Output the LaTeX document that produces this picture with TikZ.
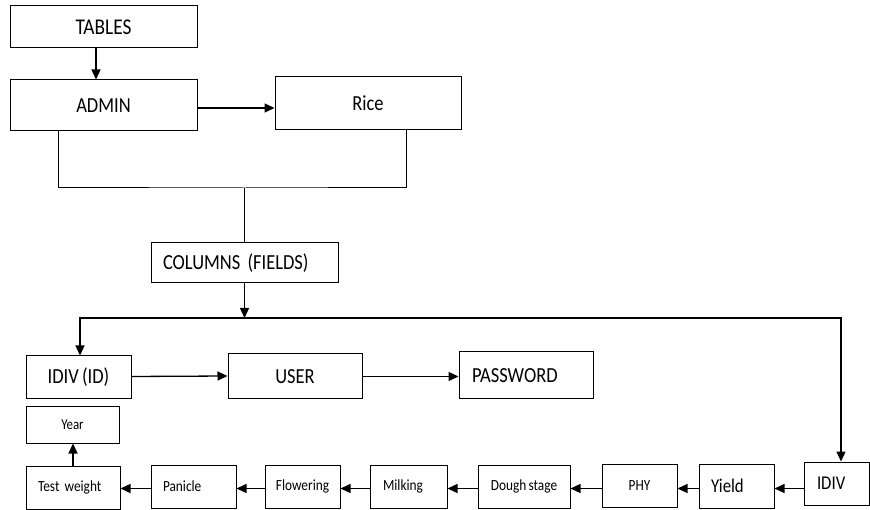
\documentclass[tikz,border=0pt]{standalone}
\usepackage{fontspec}
\setmainfont{Carlito}[FakeStretch=0.86,WordSpace=0.75]
\usetikzlibrary{arrows.meta}
\begin{document}
\begin{tikzpicture}[x=1pt,y=-1pt,
  box/.style={draw, line width=1pt, inner sep=0pt, align=center},
  lbox/.style={box, align=left, inner xsep=12pt, text width=#1},
  big/.style={font=\fontsize{21.5}{25}\selectfont},
  mid/.style={font=\fontsize{19.5}{23}\selectfont},
  small/.style={font=\fontsize{15.5}{18}\selectfont},
  conn/.style={line width=1.3pt, -{Triangle[length=10pt,width=9pt]}},
  plain/.style={line width=1pt}]
\useasboundingbox (0,0) rectangle (870,510);
% boxes
\node[box, font=\fontsize{22.5}{26}\selectfont, minimum width=187, minimum height=42] (tables) at (103.5,27) {TABLES};
\node[box, big, minimum width=187, minimum height=51] (admin) at (103.5,105.5) {ADMIN};
\node[box, big, minimum width=186, minimum height=53] (rice) at (368,103.5) {Rice};
\node[lbox=163pt, big, minimum width=187, minimum height=40] (columns) at (244.5,263) {COLUMNS (FIELDS)};
\node[box, big, minimum width=105, minimum height=43] (idivid) at (78.5,377.5) {IDIV (ID)};
\node[box, big, minimum width=134, minimum height=45] (user) at (295,376.5) {USER};
\node[lbox=108pt, inner xsep=13pt, big, minimum width=134, minimum height=47] (password) at (526,375.5) {PASSWORD};
\node[box, font=\fontsize{15}{18}\selectfont, minimum width=93, minimum height=37] (year) at (72.5,424.5) {Year};
\node[lbox=70pt, small, minimum width=94, minimum height=43] (testw) at (73,487.5) {Test weight};
\node[lbox=61pt, small, minimum width=85, minimum height=43] (panicle) at (193.5,486.5) {Panicle};
\node[box, small, minimum width=75, minimum height=43] (flowering) at (302.5,486.5) {Flowering};
\node[lbox=51pt, inner xsep=13pt, small, minimum width=77, minimum height=43] (milking) at (408.5,486.5) {Milking};
\node[box, small, minimum width=92, minimum height=43] (dough) at (524,486.5) {Dough stage};
\node[box, small, minimum width=75, minimum height=43] (phy) at (639.5,485.5) {PHY};
\node[lbox=51pt, mid, minimum width=75, minimum height=44] (yield) at (736.5,486) {Yield};
\node[lbox=39pt, inner xsep=13pt, mid, minimum width=65, minimum height=43] (idiv) at (836.5,483.5) {IDIV};
% helper coordinates
\coordinate (j) at (244.5,188);
\coordinate (k) at (244.5,318);
\coordinate (r) at (0,488.5);
% connectors
\draw[conn] ([xshift=-7.5pt]tables.south) -- ([xshift=-7.5pt]admin.north);
\draw[conn] ([yshift=-2.5pt]admin.east) -- ([yshift=-2.5pt]admin.east -| rice.west);
\draw[plain] ([xshift=-45.5pt]admin.south) |- (j) -| ([xshift=38pt]rice.south);
\draw[plain] (j) -- (columns.north);
\draw[conn] (columns.south) -- (k);
\draw[conn] (k) -| ([xshift=1.5pt]idivid.north);
\draw[conn] (k) -| ([xshift=4.5pt]idiv.north);
\draw[conn] ([yshift=1pt]idivid.east) -- ([yshift=0.5pt]user.west);
\draw[conn] (user.east) -- (user.east -| password.west);
\draw[conn] (idiv.west |- r) -- (yield.east |- r);
\draw[conn] (yield.west |- r) -- (phy.east |- r);
\draw[conn] (phy.west |- r) -- (dough.east |- r);
\draw[conn] (dough.west |- r) -- (milking.east |- r);
\draw[conn] (milking.west |- r) -- (flowering.east |- r);
\draw[conn] (flowering.west |- r) -- (panicle.east |- r);
\draw[conn] (panicle.west |- r) -- (testw.east |- r);
\draw[conn] (testw.north) -- (testw.north |- year.south);
\end{tikzpicture}
\end{document}
